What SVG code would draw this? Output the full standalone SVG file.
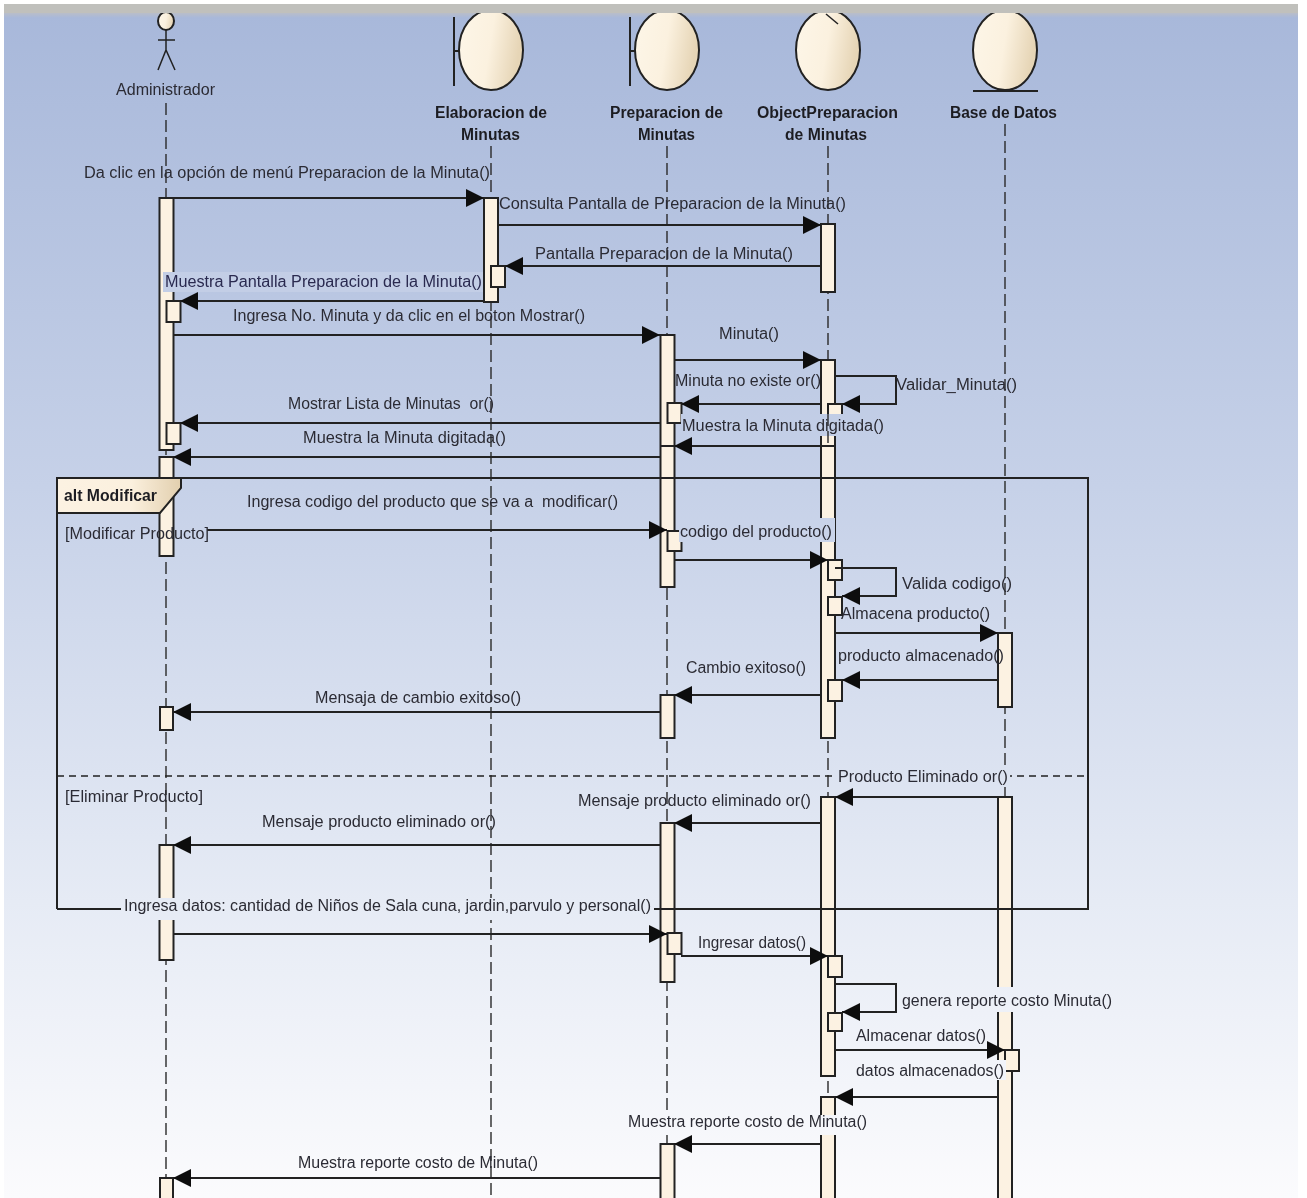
<svg xmlns="http://www.w3.org/2000/svg" width="1307" height="1198" viewBox="0 0 1307 1198">
<style>
text{font-family:"Liberation Sans",Arial,sans-serif;font-size:16px;fill:#2c2c34}
.b{font-weight:bold;fill:#1e1e22}
.l{fill:none;stroke:#2a2a2a;stroke-width:1.4;stroke-dasharray:12 5}
.a{fill:#fcf2e2;stroke:#222;stroke-width:2}
.h{fill:url(#egg);stroke:#222;stroke-width:2}
.s{fill:none;stroke:#222;stroke-width:2}
.m{fill:none;stroke:#222;stroke-width:2;marker-end:url(#ah)}
.g{fill:url(#bg)}
</style>
<defs>
<linearGradient id="bg" gradientUnits="userSpaceOnUse" x1="0" y1="13" x2="0" y2="1198">
<stop offset="0" stop-color="#a8b8da"/><stop offset="0.4" stop-color="#c6d1e8"/><stop offset="0.75" stop-color="#e6ebf5"/><stop offset="1" stop-color="#fbfbfd"/>
</linearGradient>
<linearGradient id="band" x1="0" y1="0" x2="0" y2="1">
<stop offset="0" stop-color="#c2c2bc"/><stop offset="0.55" stop-color="#bdbfc4"/><stop offset="1" stop-color="#a8b8da"/>
</linearGradient>
<linearGradient id="egg" x1="0" y1="0" x2="1" y2="0.2">
<stop offset="0" stop-color="#fdf6e8"/><stop offset="0.55" stop-color="#fbf1df"/><stop offset="1" stop-color="#e6d5b6"/>
</linearGradient>
<linearGradient id="tab" x1="0" y1="0" x2="1" y2="0">
<stop offset="0" stop-color="#fcf2e2"/><stop offset="0.6" stop-color="#fbf0de"/><stop offset="1" stop-color="#e2cfae"/>
</linearGradient>
<marker id="ah" markerUnits="userSpaceOnUse" markerWidth="19" markerHeight="20" viewBox="0 0 19 20" refX="18" refY="10" orient="auto">
<path d="M0 1L18 10L0 19Z" fill="#111"/>
</marker>
<filter id="soft" x="0" y="0" width="100%" height="100%"><feGaussianBlur stdDeviation="0.45"/></filter>
</defs>
<rect width="1307" height="1198" fill="#fff"/>
<g filter="url(#soft)">
<rect x="4" y="4" width="1294" height="1194" class="g"/>
<rect x="4" y="4" width="1294" height="14" fill="url(#band)"/>

<g id="lifelines">
<path class="l" d="M166 103V1198"/>
<path class="l" d="M491 146V1198"/>
<path class="l" d="M667 146V1198"/>
<path class="l" d="M828 146V1198"/>
<path class="l" d="M1005 124V1198"/>
</g>

<g id="node-administrador">
<ellipse class="h" cx="166" cy="21" rx="8" ry="9"/>
<path class="s" d="M166 30V50M158 40H175M158 70L166 50L175 70" style="stroke-width:1.5"/>
<rect class="a" x="159.500" y="198" width="14" height="252"/>
<rect class="a" x="166.500" y="301" width="14" height="21"/>
<rect class="a" x="166.500" y="423" width="14" height="21"/>
<rect class="a" x="159.500" y="457" width="14" height="99"/>
<rect class="a" x="160" y="707" width="13" height="23"/>
<rect class="a" x="159.500" y="845" width="14" height="115"/>
<rect class="a" x="160" y="1178" width="13" height="30"/>
</g>

<g id="node-elaboracion">
<ellipse class="h" cx="491" cy="50" rx="32" ry="40"/>
<path class="s" d="M454 17V86M454 51H459"/>
<rect class="a" x="484" y="198" width="14" height="104"/>
<rect class="a" x="491" y="266" width="14" height="21"/>
</g>

<g id="node-preparacion">
<ellipse class="h" cx="667" cy="50" rx="32" ry="40"/>
<path class="s" d="M630 17V86M630 51H635"/>
<rect class="a" x="660.500" y="335" width="14" height="252"/>
<path class="s" d="M660.500 446H674.500"/>
<rect class="a" x="667.500" y="403" width="14" height="20"/>
<rect class="a" x="667.500" y="531" width="14" height="20"/>
<rect class="a" x="660.500" y="695" width="14" height="43"/>
<rect class="a" x="660.500" y="823" width="14" height="159"/>
<rect class="a" x="667.500" y="933" width="14" height="21"/>
<rect class="a" x="660.500" y="1144" width="14" height="64"/>
</g>

<g id="node-object">
<ellipse class="h" cx="828" cy="50" rx="32" ry="40"/>
<path class="s" d="M826 14L838 24" style="stroke-width:1.500"/>
<rect class="a" x="821" y="224" width="14" height="68"/>
<rect class="a" x="821" y="360" width="14" height="86"/>
<rect class="a" x="828" y="404" width="14" height="30"/>
<rect class="a" x="821" y="446" width="14" height="292"/>
<rect class="a" x="828" y="560" width="14" height="20"/>
<rect class="a" x="828" y="597" width="14" height="18"/>
<rect class="a" x="828" y="680" width="14" height="21"/>
<rect class="a" x="821" y="797" width="14" height="279"/>
<rect class="a" x="828" y="956" width="14" height="21"/>
<rect class="a" x="828" y="1013" width="14" height="18"/>
<rect class="a" x="821" y="1097" width="14" height="120"/>
</g>

<g id="node-base">
<ellipse class="h" cx="1005" cy="50" rx="32" ry="40"/>
<path class="s" d="M973 91H1038"/>
<rect class="a" x="998" y="633" width="14" height="74"/>
<rect class="a" x="998" y="797" width="14" height="420"/>
<rect class="a" x="1005" y="1050" width="14" height="21"/>
</g>

<g id="connectors">
<path class="m" d="M173 198H484"/>
<path class="m" d="M498 225H821"/>
<path class="m" d="M821 266H505"/>
<path class="m" d="M484 301H180"/>
<path class="m" d="M173 335H660"/>
<path class="m" d="M674 360H821"/>
<path class="m" d="M835 376H896V404H842"/>
<path class="m" d="M821 404H681"/>
<path class="m" d="M660 423H180"/>
<path class="m" d="M821 446H674"/>
<path class="m" d="M660 457H173"/>
<path class="m" d="M207 530H667"/>
<path class="m" d="M674 560H828"/>
<path class="m" d="M835 568H896V596H842"/>
<path class="m" d="M835 633H998"/>
<path class="m" d="M998 680H842"/>
<path class="m" d="M821 695H674"/>
<path class="m" d="M660 712H173"/>
<path class="m" d="M998 797H835"/>
<path class="m" d="M821 823H674"/>
<path class="m" d="M660 845H173"/>
<path class="m" d="M173 934H667"/>
<path class="m" d="M681 956H828"/>
<path class="m" d="M835 984H896V1012H842"/>
<path class="m" d="M835 1050H1005"/>
<path class="m" d="M998 1097H835"/>
<path class="m" d="M821 1144H674"/>
<path class="m" d="M660 1178H173"/>
</g>

<g id="frame-alt">
<path class="s" d="M57 909V478H1088V909H57"/>
<path d="M57 776H1088" fill="none" stroke="#222" stroke-width="1.400" stroke-dasharray="7 5"/>
<path d="M57 478H181V488L160 513H57Z" fill="url(#tab)" stroke="#222" stroke-width="2"/>
<text class="b" x="64" y="501" textLength="93" lengthAdjust="spacingAndGlyphs">alt Modificar</text>
<text x="65" y="539" textLength="144" lengthAdjust="spacingAndGlyphs">[Modificar Producto]</text>
<text x="65" y="802" textLength="138" lengthAdjust="spacingAndGlyphs">[Eliminar Producto]</text>
</g>

<g id="labels">
<text x="84" y="178" textLength="406" lengthAdjust="spacingAndGlyphs">Da clic en la opción de menú Preparacion de la Minuta()</text>
<text x="499" y="209" textLength="347" lengthAdjust="spacingAndGlyphs">Consulta Pantalla de Preparacion de la Minuta()</text>
<text x="535" y="259" textLength="258" lengthAdjust="spacingAndGlyphs">Pantalla Preparacion de la Minuta()</text>
<rect x="163" y="272" width="320" height="20" fill="#c3cee6"/>
<text x="165" y="287" textLength="317" lengthAdjust="spacingAndGlyphs" style="fill:#2a2a50">Muestra Pantalla Preparacion de la Minuta()</text>
<text x="233" y="321" textLength="352" lengthAdjust="spacingAndGlyphs">Ingresa No. Minuta y da clic en el boton Mostrar()</text>
<text x="719" y="339" textLength="60" lengthAdjust="spacingAndGlyphs">Minuta()</text>
<text x="675" y="386" textLength="146" lengthAdjust="spacingAndGlyphs">Minuta no existe or()</text>
<text x="896" y="390" textLength="121" lengthAdjust="spacingAndGlyphs">Validar_Minuta()</text>
<text x="288" y="409" textLength="206" lengthAdjust="spacingAndGlyphs" xml:space="preserve">Mostrar Lista de Minutas  or()</text>
<rect class="g" x="681" y="414" width="190" height="22"/>
<path class="l" d="M828 414V445"/>
<text x="682" y="431" textLength="202" lengthAdjust="spacingAndGlyphs">Muestra la Minuta digitada()</text>
<text x="303" y="443" textLength="203" lengthAdjust="spacingAndGlyphs">Muestra la Minuta digitada()</text>
<text x="247" y="507" textLength="371" lengthAdjust="spacingAndGlyphs" xml:space="preserve">Ingresa codigo del producto que se va a  modificar()</text>
<rect class="g" x="679" y="518" width="156" height="24"/>
<text x="680" y="537" textLength="152" lengthAdjust="spacingAndGlyphs">codigo del producto()</text>
<text x="902" y="589" textLength="110" lengthAdjust="spacingAndGlyphs">Valida codigo()</text>
<text x="841" y="619" textLength="149" lengthAdjust="spacingAndGlyphs">Almacena producto()</text>
<text x="838" y="661" textLength="166" lengthAdjust="spacingAndGlyphs">producto almacenado()</text>
<text x="686" y="673" textLength="120" lengthAdjust="spacingAndGlyphs">Cambio exitoso()</text>
<text x="315" y="703" textLength="206" lengthAdjust="spacingAndGlyphs">Mensaja de cambio exitoso()</text>
<rect class="g" x="835" y="767" width="175" height="20"/>
<text x="838" y="782" textLength="170" lengthAdjust="spacingAndGlyphs">Producto Eliminado or()</text>
<text x="578" y="806" textLength="233" lengthAdjust="spacingAndGlyphs">Mensaje producto eliminado or()</text>
<text x="262" y="827" textLength="234" lengthAdjust="spacingAndGlyphs">Mensaje producto eliminado or()</text>
<rect class="g" x="121" y="898" width="533" height="22"/>
<text x="124" y="911" textLength="527" lengthAdjust="spacingAndGlyphs">Ingresa datos: cantidad de Niños de Sala cuna, jardin,parvulo y personal()</text>
<text x="698" y="948" textLength="108" lengthAdjust="spacingAndGlyphs">Ingresar datos()</text>
<rect class="g" x="900" y="987" width="214" height="25"/>
<text x="902" y="1006" textLength="210" lengthAdjust="spacingAndGlyphs">genera reporte costo Minuta()</text>
<text x="856" y="1041" textLength="130" lengthAdjust="spacingAndGlyphs">Almacenar datos()</text>
<rect class="g" x="854" y="1060" width="152" height="20"/>
<text x="856" y="1076" textLength="148" lengthAdjust="spacingAndGlyphs">datos almacenados()</text>
<rect class="g" x="626" y="1115" width="243" height="20"/>
<text x="628" y="1127" textLength="239" lengthAdjust="spacingAndGlyphs">Muestra reporte costo de Minuta()</text>
<text x="298" y="1168" textLength="240" lengthAdjust="spacingAndGlyphs">Muestra reporte costo de Minuta()</text>
</g>

<g id="head-labels">
<text x="116" y="95" textLength="99" lengthAdjust="spacingAndGlyphs">Administrador</text>
<text class="b" x="435" y="118" textLength="112" lengthAdjust="spacingAndGlyphs">Elaboracion de</text>
<text class="b" x="461" y="140" textLength="59" lengthAdjust="spacingAndGlyphs">Minutas</text>
<text class="b" x="610" y="118" textLength="113" lengthAdjust="spacingAndGlyphs">Preparacion de</text>
<text class="b" x="638" y="140" textLength="57" lengthAdjust="spacingAndGlyphs">Minutas</text>
<text class="b" x="757" y="118" textLength="141" lengthAdjust="spacingAndGlyphs">ObjectPreparacion</text>
<text class="b" x="785" y="140" textLength="82" lengthAdjust="spacingAndGlyphs">de Minutas</text>
<text class="b" x="950" y="118" textLength="107" lengthAdjust="spacingAndGlyphs">Base de Datos</text>
</g>
<rect x="4" y="4" width="1294" height="9" fill="#c0c0bc"/>
</g>
</svg>
